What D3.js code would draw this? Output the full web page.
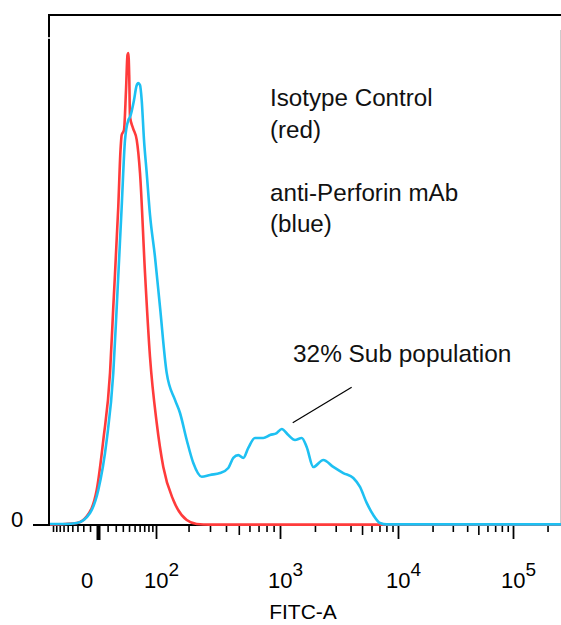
<!DOCTYPE html>
<html>
<head>
<meta charset="utf-8">
<script src="https://cdn.jsdelivr.net/npm/d3@7"></script>
<style>
  body { margin: 0; background: #fff; }
  svg { display: block; font-family: "Liberation Sans", Arial, sans-serif; }
</style>
</head>
<body>
<svg id="chart" width="561" height="625"></svg>
<script>
// Isotype control (red) histogram: FITC intensity and event count
const isoFluor = [-100, -56, -31, -15, -1.5, 5.3, 12.8, 16.8, 23.4, 26.6, 28.3, 31.8, 35, 37.4, 38.8,
  40.3, 41.7, 47, 54.1, 60.8, 71.8, 83.9, 101.7, 118.2, 146.8, 192.9, 234, 300, 1000, 10000, 100000, 262000];
const isoCount = [0.2, 0.5, 1.0, 4.1, 17.1, 41.6, 74.4, 106.7, 155.6, 183.5, 190.8, 193.2, 212.8, 229.9, 230.9,
  220.2, 199.6, 194.2, 188.4, 172.2, 123.3, 82.2, 49.9, 28.4, 12.2, 2.4, 0.5, 0.2, 0.2, 0.2, 0.2, 0.2];

// anti-Perforin mAb (blue) histogram
const perfFluor = [-100, -56, -31, -10, 0.3, 9, 16.8, 21.3, 28.3, 33.4, 38.8, 41.7, 48.9, 53.7,
  57.3, 60.8, 64.4, 69.5, 75.8, 83.9, 97.2, 109.7, 127.4, 152.1, 168.6, 192.9, 219.4, 257.3, 300,
  359.5, 416.5, 454.6, 495.8, 540.3, 588.5, 659, 758, 848, 947, 1035, 1181, 1349, 1541, 1700,
  1936, 2355, 2862, 3477, 4222, 4805, 5470, 6214, 7071, 8044, 10000, 100000, 262000];
const perfCount = [0.5, 0.5, 1.0, 5.9, 17.1, 41.6, 74.4, 106.7, 155.6, 188.4, 198.1, 199.6, 207.9, 214.8,
  216.2, 215.3, 207.9, 188.4, 172.2, 151.7, 131.1, 106.7, 74.4, 61.2, 54.8, 41.6, 30.3, 23.6, 24.5,
  25.4, 27.9, 32.8, 34.2, 32.8, 37.7, 42.6, 42.6, 44.0, 45.0, 47.0, 44.0, 41.6, 42.6, 38.2,
  28.4, 31.8, 28.4, 25.4, 23.0, 18.6, 10.8, 4.9, 1.0, 0.3, 0.3, 0.3, 0.3];

// axis labels
const majorTicks = [0, 100, 1000, 10000, 100000];
const majorLabels = ["0", "2", "3", "4", "5"];   // exponents, "0" is plain
const midTicks = [500, 5000, 50000];
const legendLines = ["Isotype Control", "(red)", "", "anti-Perforin mAb", "(blue)"];
const annoText = "32% Sub population";
const annoFrom = [1290, 50];
const annoTo = [4090, 67.4];

const svg = d3.select("#chart");

// biexponential-like display (logicle style) built from symlog pieces
const x = d3.scaleSymlog().constant(50)
  .domain([-100, 0, 100, 1e3, 1e4, 1e5, 2.62e5])
  .range([50, 98, 156, 280, 398, 513, 561]);
const y = d3.scaleLinear().domain([0, 250]).range([525, 14]);

// minor ticks: each decade 2..9, plus the linear part around zero
let minorTicks = [];
for (let i = 1; i <= 9; i++) { minorTicks.push(-10 * i); minorTicks.push(10 * i); }
[100, 1000, 10000].forEach(d => {
  for (let k = 2; k <= 9; k++) if (k !== 5) minorTicks.push(d * k);
});
minorTicks.push(200000);

// frame
svg.append("line").attr("x1", 49).attr("x2", 561).attr("y1", 15).attr("y2", 15)
  .attr("stroke", "#000").attr("stroke-width", 2);
svg.append("line").attr("x1", 49).attr("x2", 49).attr("y1", 14).attr("y2", 526)
  .attr("stroke", "#000").attr("stroke-width", 2);
svg.append("line").attr("x1", 46).attr("x2", 52).attr("y1", 38).attr("y2", 38)
  .attr("stroke", "#fff").attr("stroke-width", 1.5);
svg.append("line").attr("x1", 560.5).attr("x2", 560.5).attr("y1", 30).attr("y2", 525)
  .attr("stroke", "#ccc").attr("stroke-width", 1);

// x axis ticks
function tickAxis(vals, size, width) {
  const g = svg.append("g").attr("transform", "translate(0,525)")
    .call(d3.axisBottom(x).tickValues(vals).tickSize(size).tickFormat(""));
  g.select(".domain").remove();
  g.selectAll(".tick line").attr("stroke", "#000").attr("stroke-width", width);
  return g;
}
tickAxis(minorTicks, 7, 1.6);
tickAxis(midTicks, 10, 1.6);
tickAxis(majorTicks.slice(1), 14, 1.8);
tickAxis([0], 15, 4);

// baseline and y zero tick
svg.append("line").attr("x1", 33).attr("x2", 561).attr("y1", 525).attr("y2", 525)
  .attr("stroke", "#000").attr("stroke-width", 2);
svg.append("text").attr("x", 17).attr("y", 527).attr("text-anchor", "middle")
  .attr("font-size", 22).attr("fill", "#000").text("0");

// tick labels
majorTicks.forEach((v, i) => {
  if (i === 0) {
    svg.append("text").attr("x", x(v) - 11).attr("y", 588).attr("text-anchor", "middle")
      .attr("font-size", 22).text(majorLabels[i]);
  } else {
    const t = svg.append("text").attr("x", x(v) - 12).attr("y", 588).attr("font-size", 22);
    t.append("tspan").text("10");
    t.append("tspan").attr("dy", -12).attr("font-size", 19).text(majorLabels[i]);
  }
});
svg.append("text").attr("x", 303).attr("y", 619).attr("text-anchor", "middle")
  .attr("font-size", 21).text("FITC-A");

// curves
const line = d3.line().x(d => x(d[0])).y(d => y(d[1])).curve(d3.curveMonotoneX);
svg.append("path").datum(isoFluor.map((v, i) => [v, isoCount[i]]))
  .attr("d", line).attr("fill", "none").attr("stroke", "#ff3b3b").attr("stroke-width", 2.6);
svg.append("path").datum(perfFluor.map((v, i) => [v, perfCount[i]]))
  .attr("d", line).attr("fill", "none").attr("stroke", "#1ec0f2").attr("stroke-width", 2.6);

// legend text
legendLines.forEach((s, i) => {
  if (s) svg.append("text").attr("x", 270).attr("y", 106 + i * 31.5)
    .attr("font-size", 24.2).attr("fill", "#111").text(s);
});

// annotation
svg.append("line").attr("x1", x(annoFrom[0])).attr("y1", y(annoFrom[1]))
  .attr("x2", x(annoTo[0])).attr("y2", y(annoTo[1]))
  .attr("stroke", "#000").attr("stroke-width", 1.2);
svg.append("text").attr("x", 293).attr("y", 362).attr("font-size", 24.4).attr("fill", "#111")
  .text(annoText);
</script>
</body>
</html>
